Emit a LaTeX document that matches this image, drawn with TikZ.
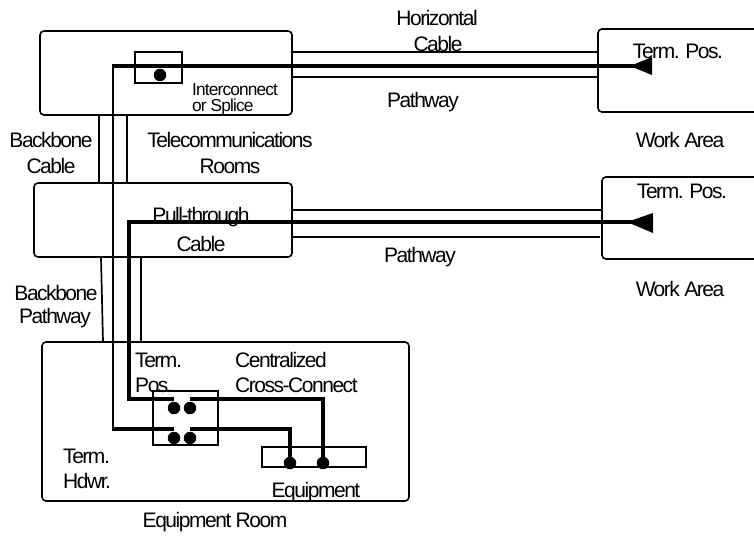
\documentclass[tikz,border=0pt]{standalone}
\usepackage{fontspec}
\setmainfont{Liberation Sans}
\newfontfamily\lblfont[LetterSpace=-7]{Liberation Sans}
\newfontfamily\smlfont[LetterSpace=-5]{Liberation Sans}
\begin{document}
\begin{tikzpicture}[x=1pt,y=-1pt,
  box/.style={draw,line width=1.6pt,rounded corners=4pt,inner sep=0pt},
  sbox/.style={draw,line width=1.6pt,inner sep=0pt},
  pathline/.style={line width=1.7pt},
  cable/.style={line width=4pt},
  cablem/.style={line width=3.4pt},
  bcable/.style={line width=2.2pt},
  lbl/.style={font=\lblfont\fontsize{21}{26}\selectfont,inner sep=0pt,anchor=base},
  lbll/.style={lbl,anchor=base west},
  sml/.style={font=\smlfont\fontsize{17.3}{18}\selectfont,inner sep=0pt,anchor=base west},
  dot/.style={circle,fill,inner sep=0pt,minimum size=12.5pt}]
\useasboundingbox (0,0) rectangle (754,536);
\clip (0,0) rectangle (754,536);

% boxes
\node[box,minimum width=252pt,minimum height=84pt] (tr) at (166,73) {};
\node[box,minimum width=258pt,minimum height=74pt] (mid) at (163,220) {};
\node[sbox,minimum width=47pt,minimum height=31pt] (splice) at (158.5,67.5) {};
\node[box,minimum width=172pt,minimum height=83pt] (wa1) at (684,70.5) {};
\node[box,minimum width=168pt,minimum height=82pt] (wa2) at (686,218) {};
\node[box,minimum width=367pt,minimum height=159pt] (er) at (225.5,421.5) {};
\node[sbox,minimum width=65pt,minimum height=54pt] (cc) at (185.5,418) {};
\node[sbox,minimum width=104pt,minimum height=20pt] (eq) at (314,457) {};

% horizontal pathways
\draw[pathline] (tr.east |- 0,52) -- (wa1.west |- 0,52);
\draw[pathline] (tr.east |- 0,77) -- (wa1.west |- 0,77);
\draw[pathline] (mid.east |- 0,210) -- (wa2.west |- 0,210);
\draw[pathline] (mid.east |- 0,237) -- (600,237);

% backbone pathways
\draw[pathline] (99,115) -- (99,183);
\draw[pathline] (127,115) -- (127,183);
\draw[pathline] (101,257) -- (103,342);
\draw[pathline] (141,257) -- (141,342);

% dots
\node[dot] (d0) at (160,75) {};
\node[dot] (c1) at (174,408) {};
\node[dot] (c2) at (190,408) {};
\node[dot] (c3) at (174,438) {};
\node[dot] (c4) at (190,438) {};
\node[dot] (e1) at (290,463) {};
\node[dot] (e2) at (323,463) {};

% coordinates for cable ends
\coordinate (t1) at (652,66);
\coordinate (t2) at (653,222);

% top horizontal cable
\draw[cable] (t1) -- (112,66);
\draw[bcable] (113,65) -- (113,429);
\draw[cablem] (112,429) -- (c3 |- 0,429);
% pull-through cable
\draw[cable,line join=miter] (t2) -- (129,222) -- (129,399) -- (c1 |- 0,399);
% cross-connect to equipment
\draw[cablem,line join=miter] (c2 |- 0,399) -- (e2 |- 0,399) -- (e2.center);
\draw[cablem,line join=miter] (c4 |- 0,429) -- (e1 |- 0,429) -- (e1.center);

% arrowheads at terminal positions
\fill (630,66) -- (652,57) -- (652,75) -- cycle;
\fill (627,222) -- (653,213) -- (653,233) -- cycle;

% labels
\node[lbl] (l1) at (437,25) {Horizontal};
\node[lbl] (l2) at (438,51) {Cable};
\node[sml] (l3) at (192,95) {Interconnect};
\node[sml] (l4) at (192,111) {or Splice};
\node[lbl] (l5) at (51,147) {Backbone};
\node[lbl] (l6) at (51,173) {Cable};
\node[lbl] (l7) at (230,147) {Telecommunications};
\node[lbl] (l8) at (230,173) {Rooms};
\node[lbl] (l9) at (423,107) {Pathway};
\node[lbl] (l10) at (678,58) {Term. Pos.};
\node[lbl] (l11) at (680,147) {Work Area};
\node[lbl] (l12) at (201,222) {Pull-through};
\node[lbl] (l13) at (201,251) {Cable};
\node[lbl] (l14) at (682,198) {Term. Pos.};
\node[lbl] (l15) at (420,262) {Pathway};
\node[lbl] (l16) at (680,296) {Work Area};
\node[lbl] (l17) at (56,300) {Backbone};
\node[lbl] (l18) at (55,323) {Pathway};
\node[lbll] (l19) at (135,367) {Term.};
\node[lbll] (l20) at (135,392) {Pos.};
\node[lbll] (l21) at (235,367) {Centralized};
\node[lbll] (l22) at (235,392) {Cross-Connect};
\node[lbll] (l23) at (63,463) {Term.};
\node[lbll] (l24) at (63,488) {Hdwr.};
\node[lbl] (l25) at (316,497) {Equipment};
\node[lbl] (l26) at (215,527) {Equipment Room};
\end{tikzpicture}
\end{document}
